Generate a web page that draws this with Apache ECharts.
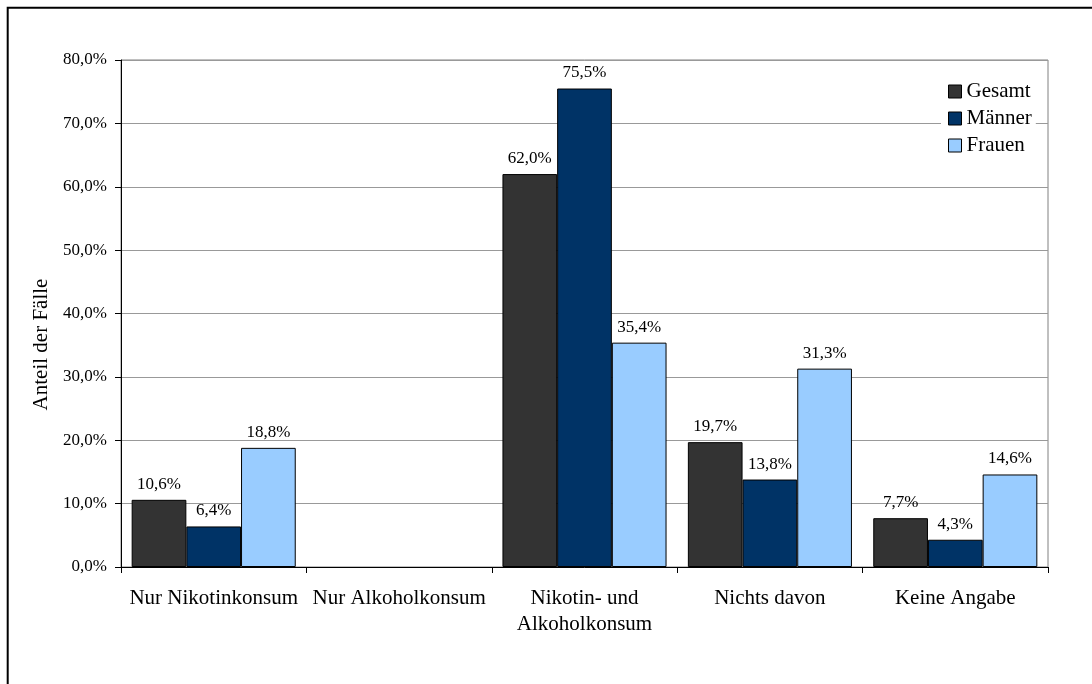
<!DOCTYPE html>
<html>
<head>
<meta charset="utf-8">
<script src="https://cdn.jsdelivr.net/npm/echarts@6/dist/echarts.min.js"></script>
<style>
  html, body { margin: 0; padding: 0; background: #fff; }
  #chart { width: 1092px; height: 684px; }
</style>
</head>
<body>
<div id="chart"></div>
<script>
// Kategorien und Anteile (in Prozent)
const categories = ['Nur Nikotinkonsum', 'Nur Alkoholkonsum', 'Nikotin- und\nAlkoholkonsum', 'Nichts davon', 'Keine Angabe'];
const gesamt = [10.6, null, 62.0, 19.7, 7.7];
const maenner = [6.4, null, 75.5, 13.8, 4.3];
const frauen = [18.8, null, 35.4, 31.3, 14.6];
const seriesNames = ['Gesamt', 'Männer', 'Frauen'];
const seriesColors = ['#333333', '#003366', '#99ccff'];

const FONT = "'Liberation Serif', 'Times New Roman', serif";
const fmt = v => v.toFixed(1).replace('.', ',') + '%';

const chart = echarts.init(document.getElementById('chart'), null, { renderer: 'canvas' });

const makeSeries = (name, data, color) => ({
  name,
  type: 'bar',
  data,
  barGap: '0%',
  barCategoryGap: '11.5%',
  itemStyle: { color, borderColor: '#000', borderWidth: 1 },
  label: {
    show: true,
    position: 'top',
    distance: 7,
    fontFamily: FONT,
    fontSize: 17,
    color: '#000',
    formatter: p => (p.value == null ? '' : fmt(p.value))
  },
  emphasis: { disabled: true }
});

chart.setOption({
  animation: false,
  backgroundColor: '#fff',
  graphic: [{
    type: 'rect',
    shape: { x: 7.7, y: 7.7, width: 1200, height: 800 },
    style: { fill: 'none', stroke: '#000', lineWidth: 2 },
    silent: true
  }],
  grid: {
    left: 121, right: 44, top: 60, bottom: 117,
    show: true,
    borderColor: '#808080',
    borderWidth: 1,
    backgroundColor: 'transparent'
  },
  legend: {
    orient: 'vertical',
    left: 941,
    top: 77,
    padding: [4, 4, 4, 7],
    backgroundColor: '#fff',
    itemWidth: 13,
    itemHeight: 13,
    itemGap: 6,
    icon: 'rect',
    itemStyle: { borderColor: '#000', borderWidth: 1 },
    textStyle: { fontFamily: FONT, fontSize: 21, color: '#000', lineHeight: 21 },
    data: seriesNames
  },
  xAxis: {
    type: 'category',
    data: categories,
    axisLine: { lineStyle: { color: '#000', width: 1 } },
    axisTick: { show: true, length: 6, alignWithLabel: false, lineStyle: { color: '#000' } },
    axisLabel: {
      fontFamily: FONT,
      fontSize: 21,
      color: '#000',
      margin: 18,
      lineHeight: 26,
      interval: 0
    },
    splitLine: { show: false }
  },
  yAxis: {
    type: 'value',
    min: 0,
    max: 80,
    interval: 10,
    name: 'Anteil der Fälle',
    nameLocation: 'middle',
    nameGap: 69,
    nameRotate: 90,
    nameTextStyle: { fontFamily: FONT, fontSize: 21, color: '#000', padding: [0, 62, 0, 0] },
    axisLine: { show: true, lineStyle: { color: '#000', width: 1 } },
    axisTick: { show: true, length: 6, lineStyle: { color: '#000' } },
    axisLabel: {
      fontFamily: FONT,
      fontSize: 17,
      color: '#000',
      margin: 14,
      formatter: v => fmt(v)
    },
    splitLine: { show: true, lineStyle: { color: '#999999', width: 1 } }
  },
  series: [
    makeSeries(seriesNames[0], gesamt, seriesColors[0]),
    makeSeries(seriesNames[1], maenner, seriesColors[1]),
    makeSeries(seriesNames[2], frauen, seriesColors[2])
  ]
});
</script>
</body>
</html>
